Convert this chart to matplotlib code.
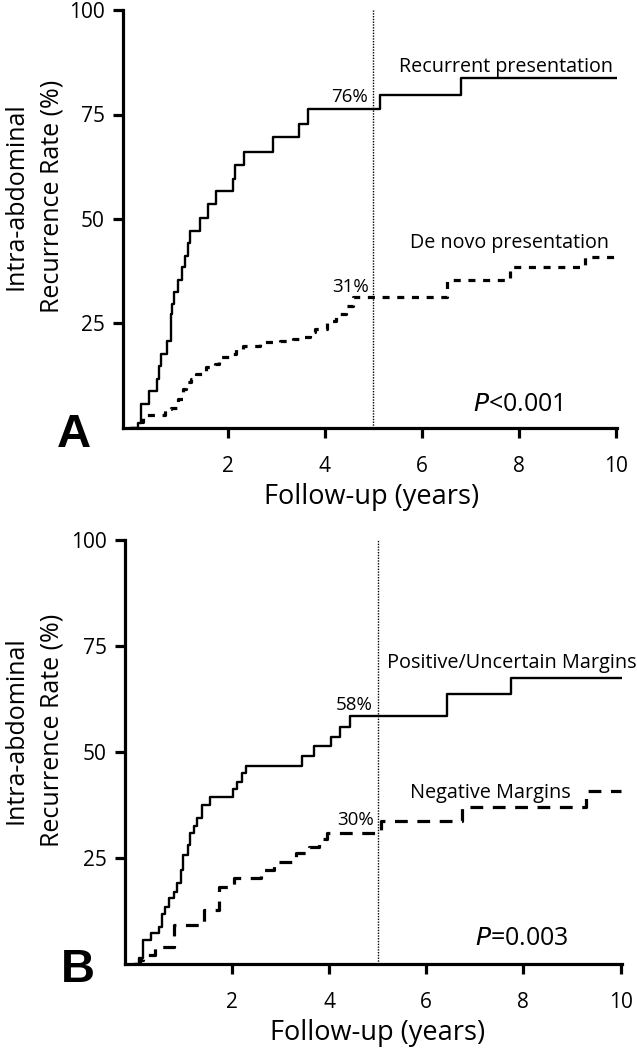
import numpy as np
import matplotlib
matplotlib.use('Agg')
import matplotlib.pyplot as plt

plt.rcParams['font.family'] = ['Open Sans', 'DejaVu Sans']

# panel A: recurrent vs de novo presentation (steps-post)
rec_t = [0, 0.145, 0.214, 0.372, 0.537, 0.592, 0.627, 0.744, 0.833, 0.854, 0.882, 0.971, 1.06,
         1.11, 1.18, 1.23, 1.42, 1.59, 1.76, 2.11, 2.14, 2.33, 2.93, 3.48, 3.66, 5.14, 6.81, 10.0]
rec_y = [0, 1.3, 5.8, 8.9, 11.7, 14.9, 17.7, 20.7, 27.3, 29.7, 32.5, 35.4, 38.4,
         41.2, 44.2, 47.2, 50.3, 53.5, 56.7, 59.6, 63.0, 66.0, 69.6, 72.8, 76.4, 79.6, 83.8, 83.8]

dn_t = [0, 0.12, 0.25, 0.70, 0.83, 0.97, 1.07, 1.14, 1.25, 1.35, 1.56, 1.73, 1.83, 2.04, 2.18,
        2.31, 2.66, 3.07, 3.35, 3.48, 3.69, 3.80, 4.04, 4.24, 4.45, 4.59, 6.52, 7.83, 9.37, 10.0]
dn_y = [0, 1.5, 3.0, 4.5, 4.9, 6.9, 9.3, 10.9, 11.7, 12.9, 14.5, 15.3, 16.9, 17.7, 18.9,
        19.7, 20.5, 20.9, 21.3, 21.7, 22.9, 23.7, 25.7, 27.3, 29.3, 31.3, 35.3, 38.4, 40.8, 40.8]

# panel B: positive/uncertain vs negative margins
pos_t = [0, 0.098, 0.166, 0.33, 0.51, 0.56, 0.63, 0.70, 0.81, 0.87, 0.95, 1.0, 1.09, 1.14, 1.21,
         1.28, 1.38, 1.55, 2.02, 2.10, 2.21, 2.29, 3.44, 3.69, 4.03, 4.22, 4.44, 6.43, 7.74, 10.0]
pos_y = [0, 1.5, 5.7, 7.2, 8.8, 11.9, 13.5, 15.5, 17.0, 19.0, 22.2, 25.7, 28.1, 30.8, 32.5,
         34.4, 37.5, 39.3, 41.2, 43.0, 45.0, 46.7, 49.1, 51.3, 53.6, 56.0, 58.5, 63.7, 67.4, 67.4]

neg_t = [0, 0.10, 0.18, 0.42, 0.80, 1.42, 1.73, 2.04, 2.59, 2.86, 3.31, 3.58, 3.80, 3.96,
         5.06, 6.73, 9.29, 10.0]
neg_y = [0, 1.0, 2.1, 3.9, 9.2, 12.7, 18.2, 20.2, 22.2, 24.1, 26.1, 27.5, 29.5, 31.0,
         33.7, 37.1, 40.9, 40.9]

x_ticks = [2, 4, 6, 8, 10]
y_ticks = [25, 50, 75, 100]

W, H = 637, 1050
fig = plt.figure(figsize=(W / 100, H / 100), dpi=100)


def px_axes(left, right, top, bottom):
    return fig.add_axes([left / W, 1 - bottom / H, (right - left) / W, (bottom - top) / H])


def style_axes(ax, x0):
    ax.set_xlim(x0, 10.03)
    ax.set_ylim(0, 100)
    for s in ['top', 'right']:
        ax.spines[s].set_visible(False)
    for s in ['left', 'bottom']:
        ax.spines[s].set_linewidth(2.3)
    ax.set_xticks(x_ticks)
    ax.set_yticks(y_ticks)
    ax.tick_params(axis='both', width=2.3, length=7, labelsize=15)
    ax.tick_params(axis='x', pad=13)
    ax.tick_params(axis='y', pad=6)
    ax.axvline(5, color='black', lw=1.0, ls=(0, (1, 1)), zorder=1)


# ---- panel A
axA = px_axes(123, 617, 10, 428)
style_axes(axA, -0.16)
axA.plot(rec_t, rec_y, drawstyle='steps-post', color='black', lw=1.7)
axA.plot(dn_t, dn_y, drawstyle='steps-post', color='black', lw=2.3, ls=(0, (2.2, 2.4)))
axA.text(4.52, 79.2, '76%', ha='center', va='center', fontsize=13.5)
axA.text(4.53, 33.7, '31%', ha='center', va='center', fontsize=13.5)
axA.text(7.74, 86.4, 'Recurrent presentation', ha='center', va='center', fontsize=14.2)
axA.text(7.82, 44.3, 'De novo presentation', ha='center', va='center', fontsize=14.2)
axA.text(7.99, 5.7, r'$\it{P}$<0.001', ha='center', va='center', fontsize=18)

# ---- panel B
axB = px_axes(125, 622, 540, 964)
style_axes(axB, -0.2)
axB.plot(pos_t, pos_y, drawstyle='steps-post', color='black', lw=1.7)
axB.plot(neg_t, neg_y, drawstyle='steps-post', color='black', lw=2.3, ls=(0, (4, 3)))
axB.text(4.52, 61.1, '58%', ha='center', va='center', fontsize=13.5)
axB.text(4.55, 34.0, '30%', ha='center', va='center', fontsize=13.5)
axB.text(7.76, 71.0, 'Positive/Uncertain Margins', ha='center', va='center', fontsize=14.3)
axB.text(7.33, 40.3, 'Negative Margins', ha='center', va='center', fontsize=14.3)
axB.text(7.97, 6.1, r'$\it{P}$=0.003', ha='center', va='center', fontsize=18)

# axis labels placed in pixel positions
for yc in [196, 730]:
    fig.text(16 / W, 1 - yc / H, 'Intra-abdominal', rotation=90, ha='center', va='center', fontsize=18)
    fig.text(52 / W, 1 - yc / H, 'Recurrence Rate (%)', rotation=90, ha='center', va='center', fontsize=18)
fig.text(372 / W, 1 - 497 / H, 'Follow-up (years)', ha='center', va='center', fontsize=19.5)
fig.text(378 / W, 1 - 1033 / H, 'Follow-up (years)', ha='center', va='center', fontsize=19.5)

fig.text(74 / W, 1 - 435 / H, 'A', ha='center', va='center', fontsize=34, fontweight='bold',
         family='Liberation Sans')
fig.text(78 / W, 1 - 970 / H, 'B', ha='center', va='center', fontsize=34, fontweight='bold',
         family='Liberation Sans')

fig.savefig('out.png', dpi=100)
